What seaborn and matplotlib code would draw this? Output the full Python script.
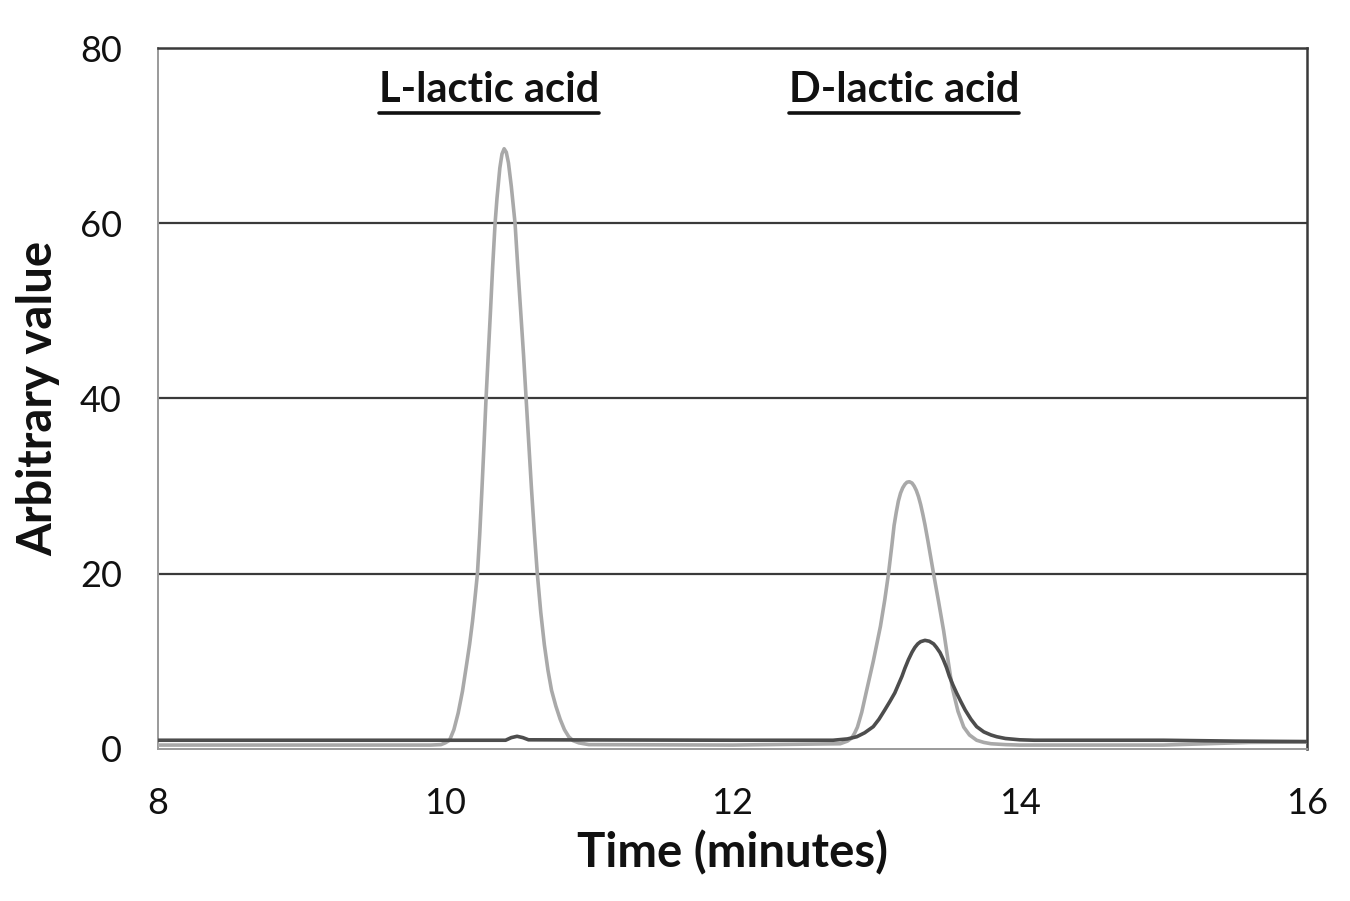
import matplotlib
matplotlib.use("Agg")
import matplotlib.pyplot as plt
from matplotlib.lines import Line2D
import seaborn as sns
import pandas as pd

# ---- data ----
time_light = [8.0, 9.0, 9.9, 9.97, 10.0, 10.03, 10.06, 10.09, 10.12, 10.15, 10.17, 10.19,
              10.205, 10.224, 10.24, 10.255, 10.27, 10.284, 10.30, 10.315, 10.33, 10.347,
              10.36, 10.38, 10.395, 10.41, 10.425, 10.44, 10.46, 10.486, 10.505, 10.525,
              10.545, 10.563, 10.58, 10.60, 10.62, 10.641, 10.665, 10.69, 10.715, 10.74,
              10.77, 10.80, 10.83, 10.86, 10.89, 10.93, 11.0, 12.0, 12.75, 12.80, 12.83,
              12.85, 12.87, 12.90, 12.93, 12.955, 12.98, 13.005, 13.03, 13.06, 13.086,
              13.11, 13.125, 13.14, 13.155, 13.17, 13.185, 13.20, 13.215, 13.232, 13.25,
              13.265, 13.28, 13.295, 13.31, 13.325, 13.34, 13.36, 13.38, 13.40, 13.435,
              13.47, 13.50, 13.53, 13.57, 13.61, 13.65, 13.70, 13.75, 13.80, 13.90, 14.0,
              15.0, 15.3, 15.6, 16.0]
value_light = [0.45, 0.45, 0.45, 0.5, 0.7, 1.0, 2.2, 4.1, 6.6, 9.8, 12.0, 14.6,
               16.9, 20, 24.5, 29.5, 34.8, 40, 45.2, 50, 55, 60,
               62.8, 66.3, 67.9, 68.5, 68.1, 66.9, 64.2, 60, 55, 50,
               45, 40, 35.3, 29.8, 24.8, 20, 15.6, 11.9, 9.0, 6.7,
               4.9, 3.4, 2.2, 1.4, 0.95, 0.7, 0.5, 0.45, 0.6, 0.9, 1.25,
               1.8, 2.5, 4.2, 6.4, 8.2, 10.0, 12.0, 14.0, 17.0, 20,
               23.3, 25.5, 27.0, 28.3, 29.2, 29.8, 30.2, 30.45, 30.5, 30.35,
               30.0, 29.5, 28.8, 27.9, 26.8, 25.6, 23.8, 21.9, 20, 16.8,
               13.5, 10.2, 7.0, 4.3, 2.5, 1.6, 1.0, 0.75, 0.6, 0.5, 0.45,
               0.45, 0.6, 0.75, 0.8]

time_dark = [8.0, 10.0, 10.42, 10.46, 10.50, 10.54, 10.58, 12.0, 12.70, 12.80, 12.865,
             12.92, 12.98, 13.02, 13.06, 13.095, 13.13, 13.155, 13.18, 13.20, 13.225,
             13.25, 13.27, 13.29, 13.31, 13.34, 13.37, 13.40, 13.42, 13.445, 13.468,
             13.49, 13.51, 13.535, 13.56, 13.59, 13.62, 13.66, 13.70, 13.75, 13.80,
             13.84, 13.90, 14.0, 14.1, 15.0, 15.5, 16.0]
value_dark = [1.0, 1.0, 1.0, 1.3, 1.45, 1.3, 1.05, 1.0, 1.0, 1.15, 1.4,
              1.85, 2.55, 3.4, 4.45, 5.4, 6.4, 7.35, 8.3, 9.2, 10.2,
              11.05, 11.6, 12.0, 12.25, 12.4, 12.3, 12.0, 11.6, 11.0, 10.2,
              9.3, 8.3, 7.3, 6.4, 5.4, 4.45, 3.4, 2.55, 1.95, 1.6,
              1.4, 1.2, 1.05, 1.0, 1.0, 0.9, 0.85]

x_ticks = [8, 10, 12, 14, 16]
y_ticks = [0, 20, 40, 60, 80]
peak_labels = ["L-lactic acid", "D-lactic acid"]
peak_label_x = [10.305, 13.195]
peak_label_y = [75.2, 75.2]

df = pd.concat([
    pd.DataFrame({"time": time_light, "value": value_light, "series": "light"}),
    pd.DataFrame({"time": time_dark, "value": value_dark, "series": "dark"}),
], ignore_index=True)

sns.set_theme(style="white")
plt.rcParams["font.family"] = ["Lato", "DejaVu Sans"]

fig = plt.figure(figsize=(13.5, 9.01), dpi=100)
ax = fig.add_axes([158 / 1350, 1 - 749 / 901, (1307 - 158) / 1350, (749 - 48) / 901])

for y in [20, 40, 60]:
    ax.axhline(y, color="#3a3a3a", lw=1.6, zorder=1)

sns.lineplot(data=df, x="time", y="value", hue="series",
             palette={"light": "#a9a9a9", "dark": "#4d4d4d"},
             hue_order=["light", "dark"], linewidth=2.6, legend=False,
             sort=False, estimator=None, ax=ax, zorder=3)
for ln in ax.lines[-2:]:
    ln.set_solid_joinstyle("round")
    ln.set_solid_capstyle("round")

ax.set_xlim(8, 16)
ax.set_ylim(0, 80)
ax.set_xticks(x_ticks)
ax.set_yticks(y_ticks)
ax.tick_params(axis="both", which="major", labelsize=26, direction="out",
               length=8, width=1.2, color="#8a8a8a", labelcolor="#111111")
ax.tick_params(axis="x", pad=19)
ax.tick_params(axis="y", pad=18)

ax.spines["top"].set_color("#3a3a3a")
ax.spines["right"].set_color("#3a3a3a")
ax.spines["top"].set_linewidth(1.8)
ax.spines["right"].set_linewidth(1.8)
ax.spines["left"].set_color("#9a9a9a")
ax.spines["bottom"].set_color("#9a9a9a")
ax.spines["left"].set_linewidth(1.4)
ax.spines["bottom"].set_linewidth(1.4)

ax.set_xlabel("Time (minutes)", fontsize=34, fontweight="bold", color="#111111", labelpad=8)
ax.set_ylabel("Arbitrary value", fontsize=34, fontweight="bold", color="#111111", labelpad=14)

texts = []
for lbl, tx, ty in zip(peak_labels, peak_label_x, peak_label_y):
    t = ax.text(tx, ty, lbl, fontsize=30, fontweight="bold", color="#111111",
                ha="center", va="center")
    texts.append(t)

fig.canvas.draw()
renderer = fig.canvas.get_renderer()
for t in texts:
    bb = t.get_window_extent(renderer)
    yline = bb.y0 - 4
    fig.add_artist(Line2D([bb.x0, bb.x1], [yline, yline], transform=None,
                          color="#111111", lw=2.6))

fig.savefig("out.png", dpi=100)
